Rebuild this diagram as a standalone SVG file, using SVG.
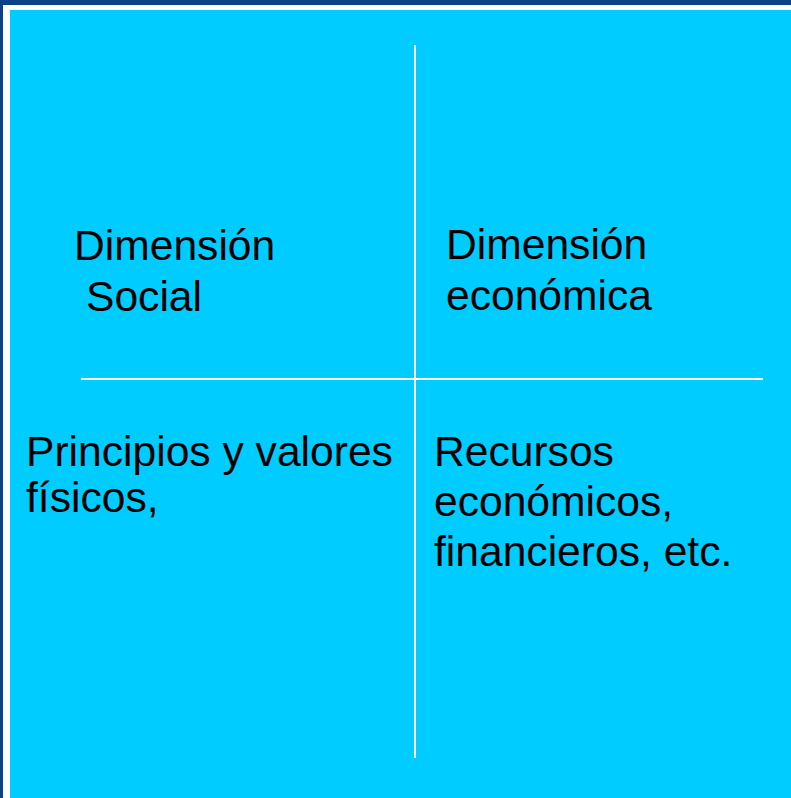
<svg xmlns="http://www.w3.org/2000/svg" width="791" height="798" viewBox="0 0 791 798">
<style>
.t{font-family:"Liberation Sans",Arial,sans-serif;font-size:42.6px;fill:#000}
.ln{stroke:#ffffff;stroke-width:2}
</style>
<rect x="0" y="0" width="791" height="798" fill="#0b4287"/>
<rect x="3" y="5" width="788" height="793" fill="#ffffff"/>
<rect x="10" y="10" width="781" height="788" fill="#00ccff"/>
<g id="connectors">
<line class="ln" x1="415" y1="45" x2="415" y2="758"/>
<line class="ln" x1="81" y1="379" x2="763" y2="379"/>
</g>
<g id="social">
<text class="t" x="74" y="260">Dimensión</text>
<text class="t" x="86" y="311">Social</text>
</g>
<g id="economica">
<text class="t" x="446" y="259">Dimensión</text>
<text class="t" x="446" y="310">económica</text>
</g>
<g id="principios">
<text class="t" x="26" y="466">Principios y valores</text>
<text class="t" x="26" y="512">físicos,</text>
</g>
<g id="recursos">
<text class="t" x="434" y="466">Recursos</text>
<text class="t" x="434" y="516">económicos,</text>
<text class="t" x="434" y="566">financieros, etc.</text>
</g>
</svg>
